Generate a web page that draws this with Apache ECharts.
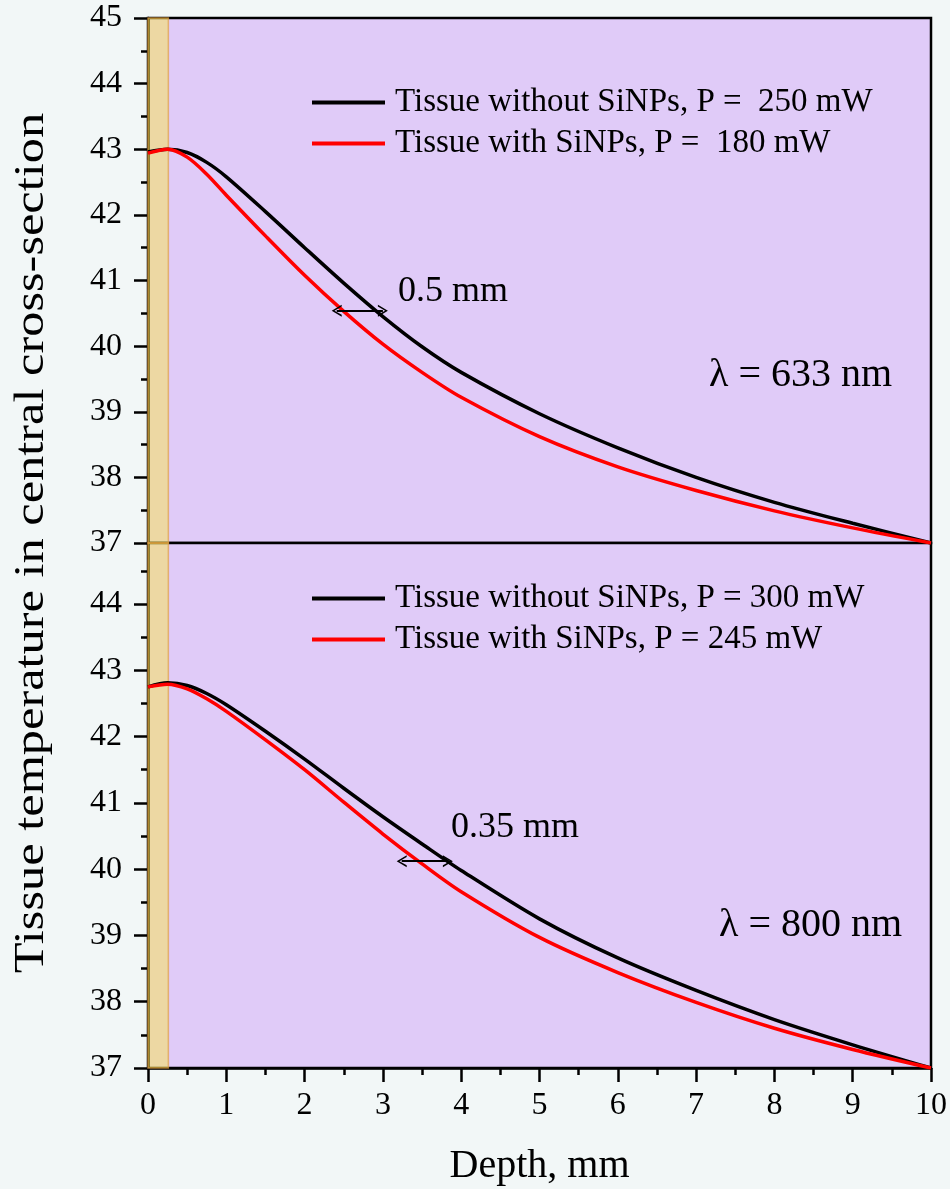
<!DOCTYPE html>
<html><head><meta charset="utf-8">
<script src="https://cdn.jsdelivr.net/npm/echarts@6/dist/echarts.min.js"></script>
<style>html,body{margin:0;padding:0;background:#F2F7F7;}#c{width:950px;height:1189px;}</style>
</head><body><div id="c"></div>
<script>
// ---- data ----
const depth = [0, 0.25, 0.5, 0.75, 1, 1.5, 2, 2.5, 3, 3.5, 4, 5, 6, 7, 8, 9, 10];
const t633Without = [42.96, 43.0, 42.95, 42.8, 42.58, 42.05, 41.5, 40.96, 40.45, 39.99, 39.6, 38.97, 38.45, 38.0, 37.62, 37.3, 37.0];
const t633With    = [42.94, 43.0, 42.88, 42.62, 42.3, 41.68, 41.08, 40.53, 40.03, 39.6, 39.22, 38.62, 38.16, 37.8, 37.49, 37.23, 37.0];
const t800Without = [42.75, 42.81, 42.77, 42.65, 42.48, 42.08, 41.66, 41.22, 40.79, 40.38, 39.98, 39.25, 38.66, 38.17, 37.73, 37.35, 37.0];
const t800With    = [42.75, 42.79, 42.72, 42.57, 42.38, 41.95, 41.5, 41.01, 40.53, 40.08, 39.66, 38.97, 38.44, 37.99, 37.6, 37.28, 37.0];
const names633 = ['Tissue without SiNPs, P =  250 mW', 'Tissue with SiNPs, P =  180 mW'];
const names800 = ['Tissue without SiNPs, P = 300 mW', 'Tissue with SiNPs, P = 245 mW'];
const arrow633 = [[2.41, 40.54], [3.0, 40.54]];
const arrow800 = [[3.24, 40.12], [3.83, 40.12]];
const bandDepth = [0, 0.26];
const xTicks = [0, 10, 1];
const yTop = [37, 45];
const yBottom = [37, 44.92];

const FF = "'Liberation Serif','Times New Roman',serif";
const zip = ys => depth.map((d, i) => [d, ys[i]]);
const chevron = 'path://M5,0 L10,10 L8.4,10 L5,2.8 L1.6,10 L0,10 Z';

function yAxisCfg(grid, range, hideMax) {
  return {
    type: 'value', gridIndex: grid, min: range[0], max: range[1], interval: 1,
    axisLine: {show: true, lineStyle: {color: '#000', width: 2.5}},
    axisTick: {show: true, inside: false, length: 14, lineStyle: {color: '#000', width: 2.5}},
    minorTick: {show: true, splitNumber: 2, length: 7, lineStyle: {color: '#000', width: 2.5}},
    splitLine: {show: false},
    axisLabel: {
      margin: 26, fontSize: 32, fontFamily: FF, color: '#000',
      showMaxLabel: !hideMax,
      formatter: v => (Math.abs(v - Math.round(v)) < 1e-6 ? String(Math.round(v)) : '')
    }
  };
}

function lineSeries(name, data, color, xi, yi) {
  return {
    name, type: 'line', xAxisIndex: xi, yAxisIndex: yi, data, smooth: 0.3,
    showSymbol: false, symbol: 'none', color: color,
    lineStyle: {color: color, width: 3.5}, z: 2
  };
}

function bandSeries(xi, yi) {
  return {
    type: 'line', xAxisIndex: xi, yAxisIndex: yi, data: [], z: 5, silent: true,
    markArea: {
      silent: true,
      itemStyle: {color: 'rgba(253,233,59,0.45)', borderColor: 'rgba(225,160,70,0.7)', borderWidth: 1.5},
      data: [[{xAxis: bandDepth[0]}, {xAxis: bandDepth[1]}]]
    }
  };
}

function arrowSeries(pts, xi, yi) {
  return {
    type: 'line', xAxisIndex: xi, yAxisIndex: yi, data: [], z: 6, silent: true,
    markLine: {
      silent: true, symbol: [chevron, chevron], symbolSize: [12, 10],
      label: {show: false},
      lineStyle: {color: '#000', width: 1.8, type: 'solid'},
      data: [[{coord: pts[0]}, {coord: pts[1]}]]
    }
  };
}

const legendBase = {
  orient: 'vertical', left: 312, padding: 0, itemWidth: 73, itemHeight: 4, itemGap: 8, icon: 'rect',
  selectedMode: false,
  textStyle: {fontSize: 33, fontFamily: FF, color: '#000', lineHeight: 33, padding: [0, 0, 0, 5]}
};

const chart = echarts.init(document.getElementById('c'), null, {renderer: 'canvas'});
chart.setOption({
  backgroundColor: '#F2F7F7',
  animation: false,
  grid: [
    {left: 148, top: 18, width: 783, height: 525, show: true, backgroundColor: '#E0CBF8', borderColor: '#000', borderWidth: 2.5},
    {left: 148, top: 543, width: 783, height: 525, show: true, backgroundColor: '#E0CBF8', borderColor: '#000', borderWidth: 2.5}
  ],
  xAxis: [
    {type: 'value', gridIndex: 0, min: xTicks[0], max: xTicks[1], interval: xTicks[2],
     axisLine: {show: false}, axisTick: {show: false}, axisLabel: {show: false}, splitLine: {show: false}},
    {type: 'value', gridIndex: 1, min: xTicks[0], max: xTicks[1], interval: xTicks[2],
     name: 'Depth, mm', nameLocation: 'middle', nameGap: 78,
     nameTextStyle: {fontSize: 40, fontFamily: FF, color: '#000'},
     axisLine: {show: true, lineStyle: {color: '#000', width: 2.5}},
     axisTick: {show: true, inside: false, length: 14, lineStyle: {color: '#000', width: 2.5}},
     minorTick: {show: true, splitNumber: 2, length: 7, lineStyle: {color: '#000', width: 2.5}},
     splitLine: {show: false},
     axisLabel: {margin: 22, fontSize: 32, fontFamily: FF, color: '#000'}}
  ],
  yAxis: [yAxisCfg(0, yTop, false), yAxisCfg(1, yBottom, true)],
  legend: [
    Object.assign({}, legendBase, {top: 86, data: names633}),
    Object.assign({}, legendBase, {top: 582, data: names800})
  ],
  series: [
    lineSeries(names633[0], zip(t633Without), '#000000', 0, 0),
    lineSeries(names633[1], zip(t633With), '#FF0000', 0, 0),
    lineSeries(names800[0], zip(t800Without), '#000000', 1, 1),
    lineSeries(names800[1], zip(t800With), '#FF0000', 1, 1),
    bandSeries(0, 0),
    bandSeries(1, 1),
    arrowSeries(arrow633, 0, 0),
    arrowSeries(arrow800, 1, 1)
  ],
  graphic: [
    {type: 'text', x: 32, y: 543, rotation: Math.PI / 2, scaleX: 1.2,
     style: {text: 'Tissue temperature in central cross-section', fontSize: 42, fontFamily: FF, fill: '#000', align: 'center', verticalAlign: 'middle'}},
    {type: 'text', x: 398, y: 292, style: {text: '0.5 mm', fontSize: 36, fontFamily: FF, fill: '#000', align: 'left', verticalAlign: 'middle'}},
    {type: 'text', x: 709, y: 375, style: {text: 'λ = 633 nm', fontSize: 40, fontFamily: FF, fill: '#000', align: 'left', verticalAlign: 'middle'}},
    {type: 'text', x: 451, y: 828, style: {text: '0.35 mm', fontSize: 36, fontFamily: FF, fill: '#000', align: 'left', verticalAlign: 'middle'}},
    {type: 'text', x: 719, y: 925, style: {text: 'λ = 800 nm', fontSize: 40, fontFamily: FF, fill: '#000', align: 'left', verticalAlign: 'middle'}}
  ]
});
</script>
</body></html>
